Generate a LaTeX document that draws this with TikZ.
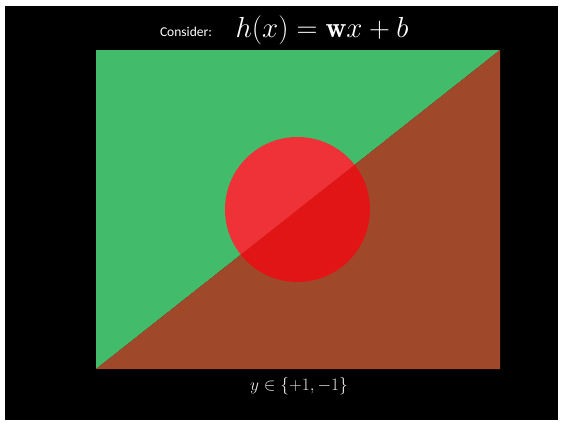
\RequirePackage{fix-cm}
\documentclass[tikz,border=0pt]{standalone}
\usepackage{fontspec}
\newfontfamily\carlito{Carlito}
\definecolor{upgreen}{HTML}{42BB6B}
\definecolor{lowbrown}{HTML}{A0492A}
\definecolor{redup}{HTML}{EF3238}
\definecolor{redlow}{HTML}{E11515}
\definecolor{labgray}{HTML}{E6E6E6}
\tikzset{
  lbl/.style={inner sep=0pt, text=white},
}
\begin{document}
\begin{tikzpicture}[x=1pt,y=-1pt]
\fill[white] (0,0) rectangle (563,423);
\fill[black] (5,6) rectangle (558,420);
\coordinate (tl) at (96,50);
\coordinate (tr) at (500,50);
\coordinate (bl) at (96,369);
\coordinate (br) at (500,369);
\coordinate (cc) at (297.5,209.5);
\fill[upgreen] (tl) -- (tr) -- (bl) -- cycle;
\fill[lowbrown] (tr) -- (br) -- (bl) -- cycle;
\begin{scope}
  \clip (cc) circle[radius=72.5];
  \fill[redup] (tl) -- (tr) -- (bl) -- cycle;
  \fill[redlow] (tr) -- (br) -- (bl) -- cycle;
\end{scope}
\node[lbl, anchor=center] (consider) at (186,32) {\carlito\fontsize{13.5}{16}\selectfont Consider:};
\node[lbl, anchor=center] (formula) at (322,30) {\fontsize{29}{33}\selectfont $h(x) = \mathbf{w}x + b$};
\node[lbl, text=labgray, anchor=center] (ylabel) at (299,386) {\fontsize{17.5}{20}\selectfont $y \in \{+1, -1\}$};
\end{tikzpicture}
\end{document}
